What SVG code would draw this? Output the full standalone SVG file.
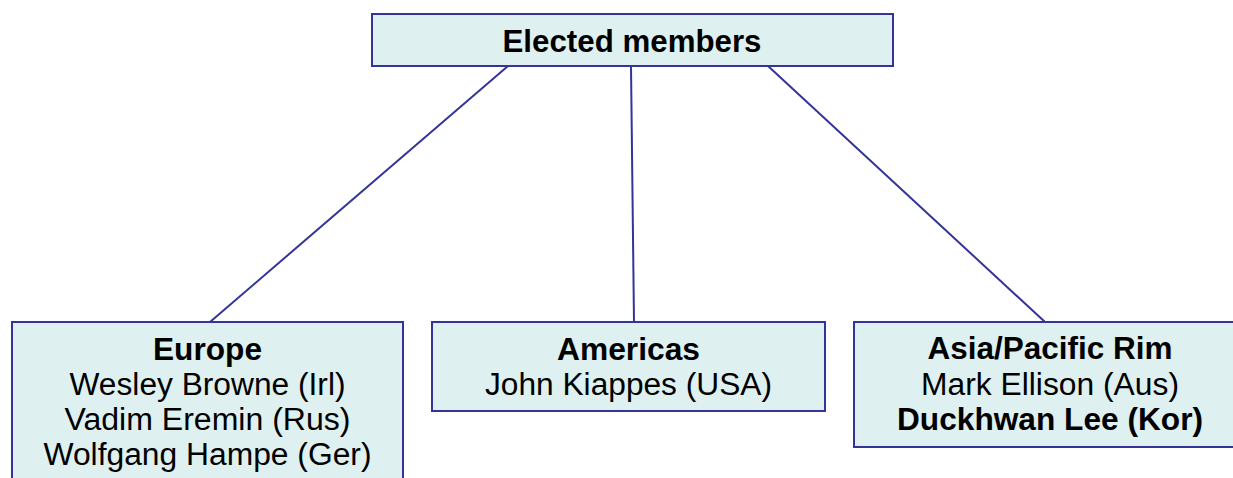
<svg xmlns="http://www.w3.org/2000/svg" width="1233" height="478" viewBox="0 0 1233 478">
<style>
.box{fill:#DEF0F0;stroke:#333399;stroke-width:2}
.conn{stroke:#333399;stroke-width:2;fill:none}
text{font-family:"Liberation Sans",Arial,sans-serif;font-size:31px;fill:#000;text-anchor:middle}
.b{font-weight:bold}
</style>
<rect width="1233" height="478" fill="#FFFFFF"/>
<g id="connectors">
<line class="conn" x1="508" y1="66" x2="210" y2="322"/>
<line class="conn" x1="631" y1="66" x2="634" y2="322"/>
<line class="conn" x1="768" y1="66" x2="1045" y2="322"/>
</g>
<g id="elected">
<rect class="box" x="372" y="14" width="521" height="52"/>
<text class="b" x="632" y="52" textLength="259" lengthAdjust="spacingAndGlyphs">Elected members</text>
</g>
<g id="europe">
<rect class="box" x="12" y="322" width="391" height="170"/>
<text class="b" x="207.5" y="360" textLength="109" lengthAdjust="spacingAndGlyphs">Europe</text>
<text x="207.5" y="395" textLength="276" lengthAdjust="spacingAndGlyphs">Wesley Browne (Irl)</text>
<text x="207.5" y="430" textLength="286" lengthAdjust="spacingAndGlyphs">Vadim Eremin (Rus)</text>
<text x="207.5" y="465" textLength="328" lengthAdjust="spacingAndGlyphs">Wolfgang Hampe (Ger)</text>
</g>
<g id="americas">
<rect class="box" x="432" y="322" width="393" height="89"/>
<text class="b" x="628.5" y="360" textLength="143" lengthAdjust="spacingAndGlyphs">Americas</text>
<text x="628.5" y="395" textLength="287" lengthAdjust="spacingAndGlyphs">John Kiappes (USA)</text>
</g>
<g id="asia">
<rect class="box" x="854" y="322" width="392" height="125"/>
<text class="b" x="1050" y="359" textLength="245" lengthAdjust="spacingAndGlyphs">Asia/Pacific Rim</text>
<text x="1050" y="395" textLength="258" lengthAdjust="spacingAndGlyphs">Mark Ellison (Aus)</text>
<text class="b" x="1050" y="430" textLength="306" lengthAdjust="spacingAndGlyphs">Duckhwan Lee (Kor)</text>
</g>
</svg>
